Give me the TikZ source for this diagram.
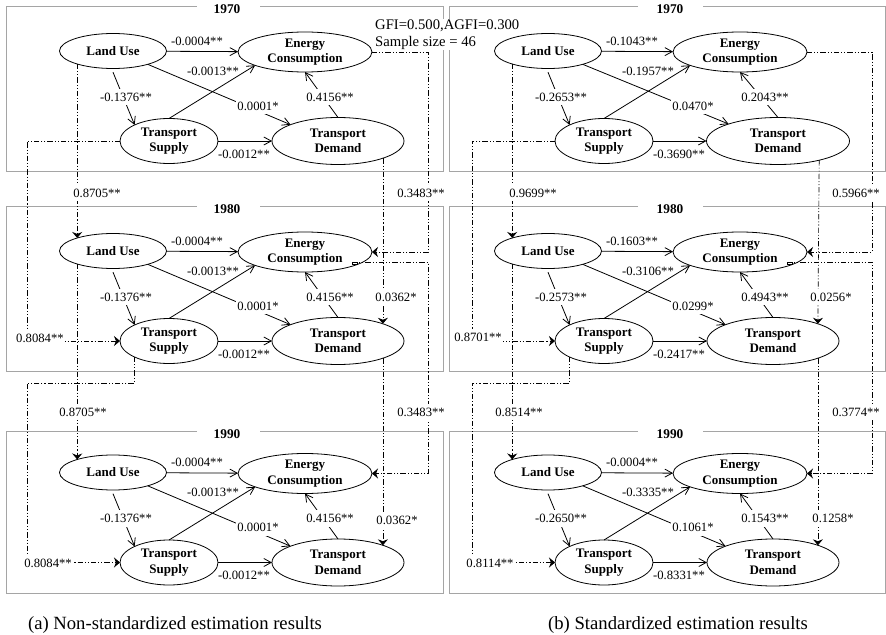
\documentclass[tikz,border=0pt]{standalone}
\usepackage{fontspec}
\setmainfont{Liberation Serif}
\usetikzlibrary{shapes.geometric,arrows.meta,calc}
\definecolor{framegray}{RGB}{165,165,165}

\tikzset{
  latent/.style={ellipse,draw,line width=0.6pt,inner sep=0pt,outer sep=0pt,align=center,
    font=\fontsize{9.75}{11.7}\selectfont\bfseries},
  lu/.style={minimum width=80.25pt,minimum height=26.25pt},
  ec/.style={minimum width=100.5pt,minimum height=30pt},
  ts/.style={minimum width=73.5pt,minimum height=33.75pt},
  td/.style={minimum width=99pt,minimum height=35.25pt},
  tdx/.style={},
  effect/.style={line width=0.6pt,-{Straight Barb[length=5.5pt,width=6pt]}},
  lab/.style={inner sep=0.5pt,font=\fontsize{9.5}{11}\selectfont},
  cutlab/.style={lab,fill=white,inner xsep=1pt,inner ysep=3pt},
  lag/.style={line width=0.5pt,
    dash pattern=on 4pt off 1.5pt on 0.8pt off 1.5pt on 0.8pt off 1.5pt,
    -{Stealth[length=4.5pt,width=7.5pt,inset=1.5pt]}},
  panelframe/.style={draw=framegray,line width=0.7pt},
  yearlbl/.style={font=\fontsize{10}{12}\selectfont\bfseries,inner sep=0pt,anchor=base},
  caption/.style={font=\fontsize{14}{16}\selectfont,anchor=base,inner sep=0pt},
}

% One structural model: four latent variables, six paths and their estimates.
% #1 name prefix, #2/#3 offset, #4..#9 path estimates
\newcommand{\sempanel}[9]{%
  \node[latent,lu] (#1LU) at ({#2+113},{#3+51}) {Land Use};
  \node[latent,ec] (#1EC) at ({#2+305},{#3+52}) {Energy\\Consumption};
  \node[latent,ts] (#1TS) at ({#2+169},{#3+141}) {Transport\\Supply};
  \node[latent,td,tdx] (#1TD) at ({#2+338},{#3+141}) {Transport\\Demand};
  \draw[effect] (#1LU) -- (#1EC);
  \draw[effect] (#1TS.north) -- (#1EC.195);
  \draw[effect] (#1LU.339) -- (#1TD.161);
  \draw[effect,shorten <=3pt] (#1LU.265) -- (#1TS.155);
  \draw[effect] (#1TD.north) -- (#1EC.south);
  \draw[effect] (#1TS) -- (#1TD);
  \node[lab] (#1e1) at ({#2+197},{#3+41}) {#4};
  \node[lab] (#1e2) at ({#2+213},{#3+71}) {#5};
  \node[cutlab] (#1e3) at ({#2+126},{#3+97}) {#6};
  \node[cutlab] (#1e4) at ({#2+258},{#3+106}) {#7};
  \node[cutlab] (#1e5) at ({#2+330},{#3+97}) {#8};
  \node[lab] (#1e6) at ({#2+244},{#3+154}) {#9};
}

\begin{document}
\begin{tikzpicture}[x=0.75pt,y=-0.75pt]
\useasboundingbox (0,0) rectangle (886,635);

% panel frames with the year set into the top edge
\foreach \t/\b/\yr [count=\i] in {6.7/171.7/1970, 206.7/371.7/1980, 431.7/593.3/1990} {
  \draw[panelframe] (197,\t) -- (6,\t) -- (6,\b) -- (443.3,\b) -- (443.3,\t) -- (260,\t);
  \node[yearlbl] (yl\i) at ({227},{\t+6.6}) {\yr};
  \draw[panelframe] (638,\t) -- (449.5,\t) -- (449.5,\b) -- (885,\b) -- (885,\t) -- (703,\t);
  \node[yearlbl] (yr\i) at ({670},{\t+6.6}) {\yr};
}

% fit statistics
\node[anchor=north west,fill=white,inner sep=0.5pt,align=left,
  font=\fontsize{11}{12.75}\selectfont] (fit) at (374.3,19)
  {GFI=0.500,AGFI=0.300\\Sample size = 46};

% (a) non-standardized
\sempanel{a}{0}{0}{-0.0004**}{-0.0013**}{-0.1376**}{0.0001*}{0.4156**}{-0.0012**}
\sempanel{b}{0}{200}{-0.0004**}{-0.0013**}{-0.1376**}{0.0001*}{0.4156**}{-0.0012**}
\sempanel{c}{0}{421.5}{-0.0004**}{-0.0013**}{-0.1376**}{0.0001*}{0.4156**}{-0.0012**}

% (b) standardized
\tikzset{tdx/.style={minimum width=107.25pt,xshift=3.75pt}}
\sempanel{ra}{435}{0}{-0.1043**}{-0.1957**}{-0.2653**}{0.0470*}{0.2043**}{-0.3690**}
\tikzset{tdx/.style={}}
\sempanel{rb}{435}{200}{-0.1603**}{-0.3106**}{-0.2573**}{0.0299*}{0.4943**}{-0.2417**}
\sempanel{rc}{435}{421.5}{-0.0004**}{-0.3335**}{-0.2650**}{0.1061*}{0.1543**}{-0.8331**}

% lagged effects between decades, left
\draw[lag] (aLU.200) -- (bLU.160);
\draw[lag] (aTS.west) -- (27,141) |- (bTS.west);
\draw[lag] (aEC.east) -| (428,150) |- (bEC.east);
\draw[lag] (aTD.339) -- (bTD.21);
\draw[lag] (bLU.200) -- (cLU.160);
\draw[lag] (bTS.205) |- (27,383) |- (cTS.west);
\coordinate (bECo) at ($(bEC.center)+(47,10)$);
\draw[lag] (bECo) -| (428,400) |- (cEC.east);
\draw[line width=0.4pt] (bECo) rectangle ++(5,2.5);
\draw[lag] (bTD.339) -- (cTD.21);

% lagged effects between decades, right
\draw[lag] (raLU.200) -- (rbLU.160);
\draw[lag] (raTS.west) -- (472,141) |- (rbTS.west);
\draw[lag] (raEC.east) -| (872,150) |- (rbEC.east);
\draw[lag] (raTD.335) -- (rbTD.21);
\draw[lag] (rbLU.200) -- (rcLU.160);
\draw[lag] (rbTS.205) |- (472,383) |- (rcTS.west);
\coordinate (rbECo) at ($(rbEC.center)+(47,10)$);
\draw[lag] (rbECo) -| (872,400) |- (rcEC.east);
\draw[line width=0.4pt] (rbECo) rectangle ++(5,2.5);
\draw[lag] (rbTD.339) -- (rcTD.21);

% lagged estimates
\node[cutlab] (la1) at (97,193) {0.8705**};
\node[cutlab] (la2) at (40,338) {0.8084**};
\node[cutlab] (la3) at (421,193) {0.3483**};
\node[cutlab] (la4) at (396,297) {0.0362*};
\node[cutlab] (la5) at (83,412) {0.8705**};
\node[cutlab] (la6) at (48,563) {0.8084**};
\node[cutlab] (la7) at (421,412) {0.3483**};
\node[cutlab] (la8) at (397,520) {0.0362*};

\node[cutlab] (lb1) at (533,193) {0.9699**};
\node[cutlab] (lb2) at (478,337) {0.8701**};
\node[cutlab] (lb3) at (856,193) {0.5966**};
\node[cutlab] (lb4) at (831,297) {0.0256*};
\node[cutlab] (lb5) at (519,412) {0.8514**};
\node[cutlab] (lb6) at (490,563) {0.8114**};
\node[cutlab] (lb7) at (856,412) {0.3774**};
\node[cutlab] (lb8) at (833,518) {0.1258*};

% captions
\node[caption] (capa) at (175,629) {(a) Non-standardized estimation results};
\node[caption] (capb) at (678,629) {(b) Standardized estimation results};
\end{tikzpicture}
\end{document}
